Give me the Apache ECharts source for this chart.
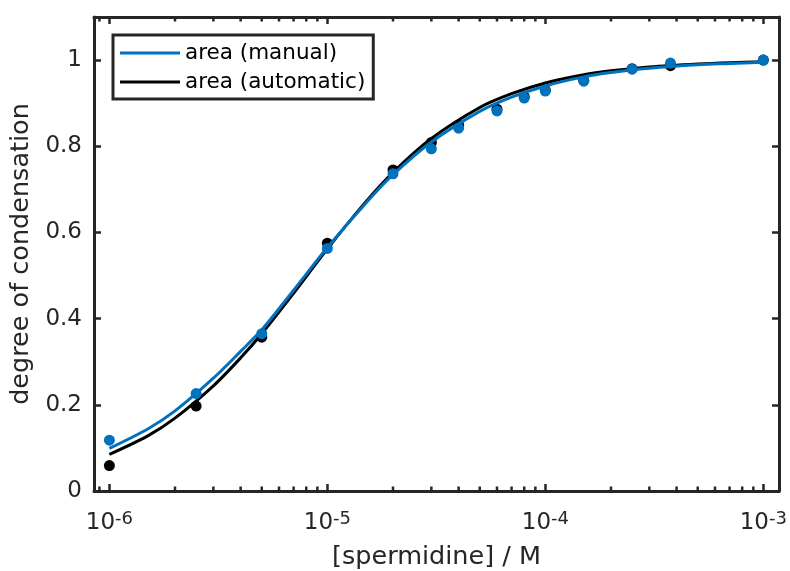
<!DOCTYPE html>
<html>
<head>
<meta charset="utf-8">
<title>Spermidine condensation</title>
<script src="https://cdn.jsdelivr.net/npm/echarts@6/dist/echarts.min.js"></script>
<style>
  html, body { margin: 0; padding: 0; background: #fff; }
  #chart { width: 790px; height: 571px; }
</style>
</head>
<body>
<div id="chart"></div>
<script>
// Spermidine concentrations (M) of the measured samples
const concentrations = [1e-6, 2.5e-6, 5e-6, 1e-5, 2e-5, 3e-5, 4e-5, 6e-5, 8e-5, 1e-4, 1.5e-4, 2.5e-4, 3.75e-4, 1e-3];
// Degree of condensation from manually and automatically determined areas
const manualValues = [0.118, 0.226, 0.365, 0.563, 0.736, 0.794, 0.842, 0.882, 0.912, 0.928, 0.951, 0.979, 0.993, 1.0];
const automaticValues = [0.059, 0.197, 0.357, 0.575, 0.745, 0.809, 0.849, 0.886, 0.915, 0.930, 0.953, 0.980, 0.987, 1.0];

// Fitted binding curves
const fitConcentrations = [1e-6, 1.5e-6, 2e-6, 3e-6, 4e-6, 5e-6, 7e-6, 1e-5, 1.5e-5, 2e-5, 3e-5, 5e-5, 7e-5, 1e-4, 1.5e-4, 2e-4, 3e-4, 5e-4, 7e-4, 1e-3];
const fitManual = [0.099, 0.144, 0.186, 0.262, 0.324, 0.374, 0.466, 0.565, 0.668, 0.734, 0.810, 0.881, 0.914, 0.940, 0.961, 0.971, 0.981, 0.989, 0.992, 0.995];
const fitAutomatic = [0.085, 0.128, 0.169, 0.244, 0.309, 0.365, 0.459, 0.562, 0.671, 0.739, 0.818, 0.890, 0.922, 0.947, 0.966, 0.975, 0.984, 0.991, 0.994, 0.996];

// Axis ranges and minor tick positions of the log axis
const xRange = [8.5e-7, 1.18e-3];
const yRange = [0, 1.1];
const yTickStep = 0.2;
const minorTicks = [9e-7,
  2e-6, 3e-6, 4e-6, 5e-6, 6e-6, 7e-6, 8e-6, 9e-6,
  2e-5, 3e-5, 4e-5, 5e-5, 6e-5, 7e-5, 8e-5, 9e-5,
  2e-4, 3e-4, 4e-4, 5e-4, 6e-4, 7e-4, 8e-4, 9e-4];

const axisColor = '#262626';
const blue = '#0072BD';
const black = '#000000';
const font = 'DejaVu Sans';

const pairs = (xs, ys) => xs.map((x, i) => [x, ys[i]]);

function powerLabel(v) {
  const e = Math.log10(v);
  const r = Math.round(e);
  if (Math.abs(e - r) > 1e-6) return '';
  return '{b|10}{s|' + r + '}';
}

const frameLine = { show: true, onZero: false, lineStyle: { color: axisColor, width: 3 } };
const innerTick = { show: true, inside: true, length: 7, lineStyle: { color: axisColor, width: 2.5 } };

const chart = echarts.init(document.getElementById('chart'), null, { renderer: 'canvas' });

chart.setOption({
  animation: false,
  backgroundColor: '#fff',
  textStyle: { fontFamily: font },
  grid: { left: 94, right: 11, top: 17, bottom: 80, containLabel: false, outerBoundsMode: 'none' },
  legend: {
    data: ['area (manual)', 'area (automatic)'],
    orient: 'vertical',
    left: 113,
    top: 35,
    padding: [6, 8, 5, 7],
    itemGap: 5,
    icon: 'rect',
    itemWidth: 60,
    itemHeight: 3,
    backgroundColor: '#fff',
    borderColor: axisColor,
    borderWidth: 3,
    borderRadius: 0,
    selectedMode: false,
    textStyle: { fontFamily: font, fontSize: 21.5, color: '#000', lineHeight: 24 }
  },
  xAxis: [
    {
      type: 'log', logBase: 10, min: xRange[0], max: xRange[1],
      position: 'bottom',
      name: '[spermidine] / M', nameLocation: 'middle', nameGap: 53,
      nameTextStyle: { fontFamily: font, fontSize: 25.5, color: axisColor },
      axisLine: frameLine, axisTick: innerTick,
      splitLine: { show: false }, minorTick: { show: false },
      axisLabel: {
        margin: 19, color: axisColor, formatter: powerLabel,
        rich: {
          b: { fontFamily: font, fontSize: 23, color: axisColor, lineHeight: 26 },
          s: { fontFamily: font, fontSize: 18, color: axisColor, lineHeight: 9, verticalAlign: 'top' }
        }
      }
    },
    {
      type: 'log', logBase: 10, min: xRange[0], max: xRange[1],
      position: 'top',
      axisLine: frameLine, axisTick: innerTick,
      axisLabel: { show: false }, splitLine: { show: false }
    }
  ],
  yAxis: [
    {
      type: 'value', min: yRange[0], max: yRange[1], interval: yTickStep,
      position: 'left',
      name: 'degree of condensation', nameLocation: 'middle', nameGap: 55,
      nameTextStyle: { fontFamily: font, fontSize: 25.5, color: axisColor },
      axisLine: frameLine, axisTick: innerTick,
      splitLine: { show: false },
      axisLabel: {
        margin: 12, color: axisColor, fontFamily: font, fontSize: 23,
        showMaxLabel: false,
        formatter: v => String(Math.round(v * 10) / 10)
      }
    },
    {
      type: 'value', min: yRange[0], max: yRange[1], interval: yTickStep,
      position: 'right',
      axisLine: frameLine, axisTick: innerTick,
      axisLabel: { show: false }, splitLine: { show: false }
    }
  ],
  series: [
    {
      // minor ticks of the log axis, drawn on the bottom and top edges
      name: 'minor ticks',
      type: 'custom',
      silent: true,
      clip: false,
      z: 5,
      data: minorTicks.map(v => [v, 0]),
      encode: { x: 0, y: 1 },
      renderItem: (params, api) => {
        const x = api.value(0);
        const lo = api.coord([x, yRange[0]]);
        const hi = api.coord([x, yRange[1]]);
        const style = { stroke: axisColor, lineWidth: 2.5 };
        return {
          type: 'group',
          children: [
            { type: 'line', shape: { x1: lo[0], y1: lo[1], x2: lo[0], y2: lo[1] - 4.5 }, style },
            { type: 'line', shape: { x1: hi[0], y1: hi[1], x2: hi[0], y2: hi[1] + 4.5 }, style }
          ]
        };
      }
    },
    {
      name: 'area (automatic)',
      type: 'line',
      data: pairs(fitConcentrations, fitAutomatic),
      smooth: 0.3,
      symbol: 'none',
      color: black,
      lineStyle: { color: black, width: 3 },
      z: 2
    },
    {
      name: 'automatic data',
      type: 'scatter',
      data: pairs(concentrations, automaticValues),
      symbol: 'circle',
      symbolSize: 11,
      itemStyle: { color: black, opacity: 1 },
      z: 3
    },
    {
      name: 'area (manual)',
      type: 'line',
      data: pairs(fitConcentrations, fitManual),
      smooth: 0.3,
      symbol: 'none',
      color: blue,
      lineStyle: { color: blue, width: 3 },
      z: 4
    },
    {
      name: 'manual data',
      type: 'scatter',
      data: pairs(concentrations, manualValues),
      symbol: 'circle',
      symbolSize: 11,
      itemStyle: { color: blue, opacity: 1 },
      z: 4
    }
  ]
});
</script>
</body>
</html>
